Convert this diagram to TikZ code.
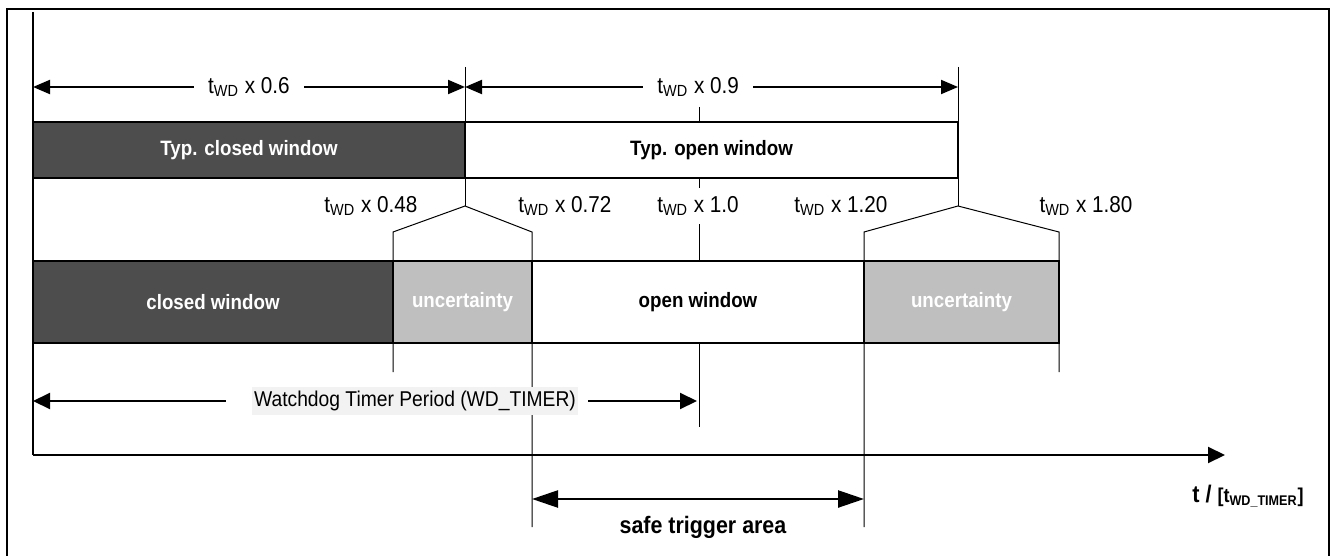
\documentclass[tikz,border=0pt]{standalone}
\usepackage{fontspec}
\setmainfont{Liberation Sans}[FakeStretch=0.9]
\usepackage{xcolor}
\usetikzlibrary{arrows.meta}

\definecolor{winDark}{RGB}{77,77,77}
\definecolor{winGray}{RGB}{191,191,191}
\definecolor{lblGray}{RGB}{242,242,242}
\newcommand{\twd}{t\textsubscript{WD}}

\begin{document}
\begin{tikzpicture}[x=0.5pt, y=-0.5pt,
    win/.style={draw, line width=1pt, inner sep=0pt, minimum height=28pt,
      font=\fontsize{10.4}{12}\selectfont\bfseries},
    dark/.style={fill=winDark, text=white},
    unc/.style={fill=winGray, text=white},
    tag/.style={inner sep=1pt, font=\fontsize{11.5}{13}\selectfont},
    guide/.style={line width=0.5pt},
    arr/.style={{Triangle[length=8.5pt, width=7pt]}-{Triangle[length=8.5pt, width=7pt]}, line width=1pt},
    harr/.style={-{Triangle[length=8.5pt, width=8pt]}, line width=1pt}
  ]
  \useasboundingbox (0,0) rectangle (1332,556);
  \draw[line width=0.6pt] (7,556) -- (7,9) -- (1329,9) -- (1329,556);

  % time axis
  \coordinate (o) at (33,455);
  \coordinate (otop) at (33,12);
  \coordinate (oend) at (1225,455);
  \draw[line width=1pt] (otop) -- (o);
  \draw[harr] (o) -- (oend);
  \node[inner sep=1pt] (tlbl) at (1248,496)
    {\fontsize{12}{14}\selectfont\bfseries t / \fontsize{10}{12}\selectfont[t\textsubscript{WD\_TIMER}]};

  % guide lines and brackets
  \draw[guide] (465,67) -- (465,206);
  \draw[guide] (958,67) -- (958,206);
  \draw[guide] (393,372) -- (393,232) -- (465,206) -- (532,232) -- (532,527);
  \draw[guide] (1059,372) -- (1059,232) -- (958,206) -- (864,232) -- (864,527);
  \draw[guide] (699,107) -- (699,122);
  \draw[guide] (699,177) -- (699,188);
  \draw[guide] (699,224) -- (699,427);

  % typical windows
  \node[win, dark, minimum width=216pt] (tcw) at (249,150) {Typ. closed window};
  \node[win, fill=white, minimum width=246.5pt] (tow) at (711.5,150) {Typ. open window};

  % windows with uncertainty
  \node[win, dark, minimum width=180pt, minimum height=41pt] (cw) at (213,302) {closed window};
  \node[win, unc, minimum width=69.5pt, minimum height=41pt] (unc1) at (462.5,302) {uncertainty};
  \node[win, fill=white, minimum width=166pt, minimum height=41pt] (ow) at (698,302) {open window};
  \node[win, unc, minimum width=97.5pt, minimum height=41pt] (unc2) at (961.5,302) {uncertainty};

  % typical durations
  \coordinate (d0) at (33,87);
  \coordinate (d1) at (465,87);
  \coordinate (d2) at (958,87);
  \draw[arr] (d0) -- (d1) node[pos=0.5, tag, fill=white, inner xsep=7pt] (l06) {\twd{} x 0.6};
  \draw[arr] (d1) -- (d2) node[pos=0.473, tag, fill=white, inner xsep=7pt] (l09) {\twd{} x 0.9};

  % limits
  \node[tag] (l048) at (371,206) {\twd{} x 0.48};
  \node[tag] (l072) at (565,206) {\twd{} x 0.72};
  \node[tag] (l10) at (698,206) {\twd{} x 1.0};
  \node[tag] (l120) at (841,206) {\twd{} x 1.20};
  \node[tag] (l180) at (1086,206) {\twd{} x 1.80};

  % watchdog period
  \node[fill=lblGray, inner xsep=1pt, inner ysep=2pt, font=\fontsize{10.7}{12}\selectfont]
    (wdt) at (415,401) {Watchdog Timer Period (WD\_TIMER)};
  \coordinate (w0) at (33,401);
  \coordinate (w1) at (697,401);
  \draw[harr] ([xshift=-13pt]wdt.west) -- (w0);
  \draw[harr] ([xshift=5pt]wdt.east) -- (w1);

  % safe trigger area
  \coordinate (s0) at (532,499);
  \coordinate (s1) at (864,499);
  \draw[line width=1.2pt, {Triangle[length=13pt, width=8.5pt]}-{Triangle[length=13pt, width=8.5pt]}] (s0) -- (s1);
  \node[inner sep=1pt, font=\fontsize{11.9}{14}\selectfont\bfseries] (safe) at (703,527) {safe trigger area};
\end{tikzpicture}
\end{document}
